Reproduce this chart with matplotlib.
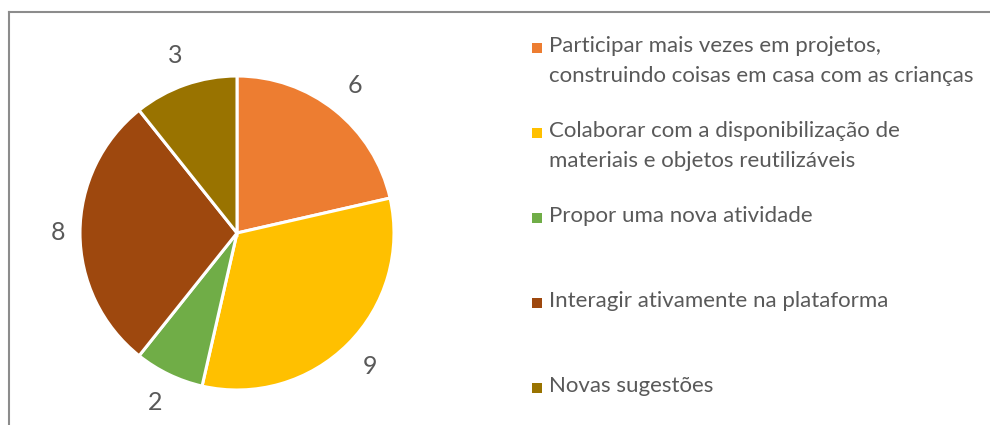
import numpy as np
import matplotlib
matplotlib.use("Agg")
import matplotlib.pyplot as plt

plt.rcParams['font.family'] = ['Lato', 'DejaVu Sans']

categories = [
    "Participar mais vezes em projetos,\nconstruindo coisas em casa com as crianças",
    "Colaborar com a disponibilização de\nmateriais e objetos reutilizáveis",
    "Propor uma nova atividade",
    "Interagir ativamente na plataforma",
    "Novas sugestões",
]
values = [6, 9, 2, 8, 3]
colors = ["#ED7D31", "#FFC000", "#70AD47", "#9E480E", "#997300"]

txt_color = "#595959"
total = sum(values)

fig = plt.figure(figsize=(9.9, 4.25), dpi=100)
ax = fig.add_axes([0, 0, 1, 1])

wedges, texts, autotexts = ax.pie(
    values, colors=colors, startangle=90, counterclock=False,
    center=(237, 192), radius=157, frame=True,
    wedgeprops=dict(edgecolor='white', linewidth=2.2),
    autopct=lambda p: f"{int(round(p * total / 100))}", pctdistance=1.2,
    textprops=dict(color=txt_color, fontsize=18),
)
# the "8" label sits a little closer to the pie
x8, y8 = autotexts[3].get_position()
autotexts[3].set_position((x8 + 9, y8))

ax.set_xlim(0, 990)
ax.set_ylim(0, 425)
ax.set_aspect('equal')
ax.axis('off')

# chart border (cropped at right and bottom)
ax.plot([9, 9], [0, 413], color="#8c8c8c", lw=1.5, clip_on=False)
ax.plot([9, 990], [413, 413], color="#8c8c8c", lw=1.5, clip_on=False)

# legend
for i, (lab, c) in enumerate(zip(categories, colors)):
    y = 425 - 48 - 85 * i
    ax.scatter([537], [y], marker='s', s=62, color=c, linewidths=0)
    ax.text(549, y + 12, lab, color=txt_color, fontsize=16, va='top',
            ha='left', linespacing=1.6)

fig.savefig("out.png", dpi=100)
